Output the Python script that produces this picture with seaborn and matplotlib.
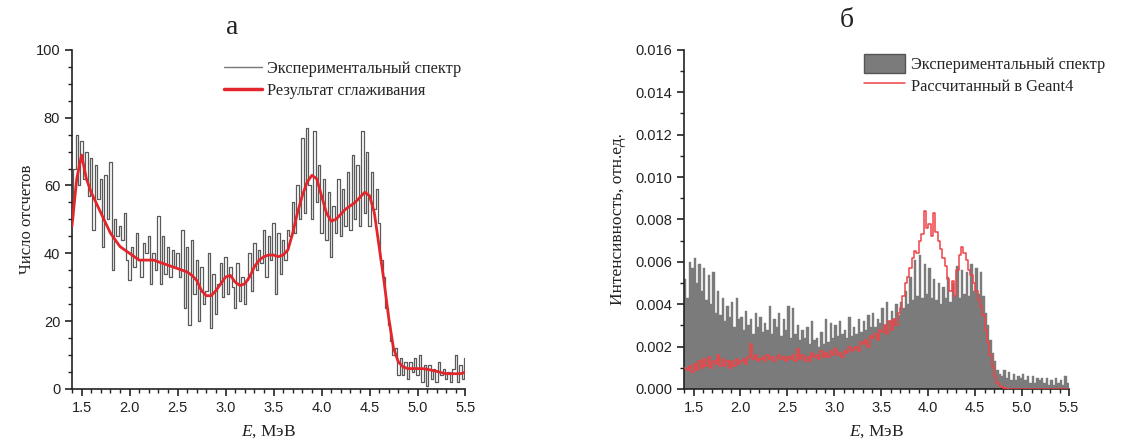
import numpy as np
import pandas as pd
import matplotlib
matplotlib.use("Agg")
import matplotlib.pyplot as plt
import seaborn as sns
from matplotlib.lines import Line2D
from matplotlib.patches import Patch
from matplotlib.ticker import MultipleLocator, FormatStrFormatter

# ---------------- data ----------------
# Panel a: experimental spectrum (counts), step 0.025 MeV starting at 1.40 MeV
e_start = 1.40
e_step_exp = 0.025
exp_counts = [
    50, 65, 75, 60, 73, 62, 70, 57, 68, 47, 66, 56, 62, 42, 63, 50,
    67, 35, 50, 45, 48, 44, 52, 38, 32, 42, 36, 46, 38, 33, 43, 40,
    45, 31, 40, 35, 51, 31, 45, 34, 42, 33, 41, 36, 40, 33, 47, 24,
    42, 19, 44, 28, 38, 20, 36, 25, 29, 40, 18, 34, 22, 31, 37, 27,
    39, 28, 36, 30, 24, 37, 26, 33, 25, 32, 40, 29, 43, 35, 41, 37,
    47, 33, 45, 38, 49, 28, 46, 34, 44, 38, 47, 45, 55, 46, 60, 50,
    74, 52, 77, 60, 50, 76, 55, 66, 46, 62, 44, 58, 39, 54, 46, 62,
    45, 59, 48, 64, 47, 69, 50, 66, 48, 76, 52, 70, 48, 64, 53, 59,
    49, 38, 33, 24, 19, 14, 10, 12, 4, 9, 4, 8, 3, 8, 5, 9,
    4, 10, 2, 7, 1, 7, 3, 6, 2, 8, 4, 6, 3, 5, 2, 6,
    10, 2, 7, 3, 9,
]
# Panel a: smoothed result, step 0.05 MeV starting at 1.40 MeV
e_step_smooth = 0.05
smooth_counts = [
    48, 62, 69, 62, 58, 55, 52, 49, 46, 44, 42, 41, 40, 39, 38, 38,
    38, 38, 37.5, 37, 36.5, 36, 35.5, 35, 34.5, 33.5, 32, 29, 27.5, 27.5,
    29, 31, 33, 33.5, 31.5, 30.5, 31, 33, 36, 38, 39, 39.5, 39.5, 39,
    39.5, 41, 46, 52, 57, 61, 63, 62, 57, 52, 49.5, 50, 51.5, 53, 54,
    55, 56.5, 58, 57, 52, 42, 32, 21, 12, 8, 6.5, 6, 6, 6, 6,
    5.8, 5.5, 5.2, 4.8, 4.5, 4.5, 4.5, 4.5, 5,
]

# Panel b: histograms, bins of 0.025 MeV from 1.40 to 5.50 MeV (values in units of 1e-3)
bin_width = 0.025
exp_intensity_e3 = [
    5.2, 4.3, 6.0, 5.7, 6.2, 5.0, 5.9, 4.6, 5.7, 4.2, 5.4, 4.0, 5.5, 3.6, 4.6, 3.5,
    4.3, 3.2, 3.9, 3.4, 4.1, 2.9, 4.3, 3.3, 3.4, 2.8, 3.7, 3.0, 3.3, 2.6, 3.6, 2.9,
    3.4, 2.7, 3.1, 2.8, 3.9, 2.6, 3.3, 2.9, 3.6, 2.5, 3.3, 2.8, 3.9, 2.4, 3.8, 2.6,
    3.0, 2.3, 2.8, 2.4, 2.9, 2.1, 3.2, 2.3, 2.4, 2.0, 2.7, 2.1, 3.3, 2.2, 3.1, 2.4,
    3.0, 2.5, 3.2, 2.6, 2.8, 2.4, 3.4, 2.5, 2.9, 2.6, 3.3, 2.7, 3.2, 2.8, 3.5, 2.9,
    3.6, 2.9, 3.3, 3.1, 3.8, 3.0, 4.1, 3.2, 3.7, 3.3, 4.0, 3.5, 4.1, 3.8, 4.6, 4.0,
    5.3, 4.2, 6.1, 4.4, 6.3, 4.3, 5.9, 4.5, 5.7, 4.3, 5.2, 4.2, 5.0, 4.0, 4.8, 4.3,
    5.3, 4.1, 5.0, 4.4, 5.8, 4.3, 5.6, 4.5, 5.5, 4.4, 5.9, 4.6, 5.7, 4.5, 5.5, 4.4,
    3.6, 3.0, 2.3, 1.7, 1.3, 0.9, 0.7, 0.6, 0.9, 0.5, 0.8, 0.4, 0.7, 0.4, 0.6, 0.5,
    0.7, 0.4, 0.6, 0.3, 0.6, 0.3, 0.5, 0.4, 0.5, 0.3, 0.5, 0.2, 0.4, 0.2, 0.5, 0.3,
    0.4, 0.2, 0.6, 0.3,
]
geant4_intensity_e3 = [
    1.0, 0.9, 1.1, 0.8, 1.2, 0.9, 1.3, 1.0, 1.4, 1.1, 1.5, 1.0, 1.3, 1.2, 1.6, 1.1,
    1.4, 1.1, 1.3, 1.0, 1.3, 1.1, 1.4, 1.2, 1.3, 1.4, 1.2, 1.5, 2.1, 1.4, 1.6, 1.3,
    1.4, 1.5, 1.3, 1.6, 1.4, 1.5, 1.3, 1.5, 1.6, 1.4, 1.5, 1.3, 1.5, 1.4, 1.6, 1.3,
    1.9, 1.4, 1.6, 1.3, 1.5, 1.3, 1.7, 1.5, 1.6, 1.4, 1.8, 1.5, 1.7, 1.5, 1.8, 1.6,
    1.9, 1.6, 1.7, 1.5, 1.8, 1.7, 2.0, 1.8, 1.9, 2.0, 1.8, 2.2, 2.1, 2.3, 2.0, 2.5,
    2.4, 2.6, 2.3, 2.8, 2.7, 3.0, 2.6, 3.2, 2.8, 3.3, 3.0, 3.6, 3.8, 4.4, 5.0, 5.3,
    5.7, 6.2, 6.5, 6.4, 7.0, 7.3, 8.4, 7.6, 7.8, 7.2, 8.3, 7.4, 7.0, 6.6, 6.2, 5.8,
    5.2, 4.6, 5.1, 4.4, 5.6, 6.3, 6.7, 6.4, 6.1, 5.6, 5.4, 5.0, 4.6, 4.2, 3.9, 3.5,
    2.8, 2.2, 1.6, 1.1, 0.6, 0.3, 0.15, 0.08, 0.05, 0.03, 0.02, 0.01, 0.0, 0.0, 0.0, 0.0,
    0.0, 0.0, 0.0, 0.0, 0.0, 0.0, 0.0, 0.0, 0.0, 0.0, 0.0, 0.0, 0.0, 0.0, 0.0, 0.0,
    0.0, 0.0, 0.0, 0.0,
]

title_a = "а"
title_b = "б"
ylabel_a = "Число отсчетов"
ylabel_b = "Интенсивность, отн.ед."
xlabel = r"$E$, МэВ"
legend_a = ["Экспериментальный спектр", "Результат сглаживания"]
legend_b = ["Экспериментальный спектр", "Рассчитанный в Geant4"]

# ---------------- frames ----------------
df_exp = pd.DataFrame({"E": e_start + e_step_exp * np.arange(len(exp_counts)),
                       "N": exp_counts})
df_smooth = pd.DataFrame({"E": e_start + e_step_smooth * np.arange(len(smooth_counts)),
                          "N": smooth_counts})
edges = (e_start + bin_width * np.arange(len(exp_intensity_e3) + 1)).tolist()
centers = 0.5 * (np.array(edges[:-1]) + np.array(edges[1:]))
df_b = pd.DataFrame({"E": centers,
                     "exp": np.array(exp_intensity_e3) * 1e-3,
                     "g4": np.array(geant4_intensity_e3) * 1e-3})

# ---------------- style ----------------
sns.set_theme(style="ticks")
plt.rcParams["font.family"] = ["Liberation Sans", "DejaVu Sans"]
plt.rcParams["mathtext.fontset"] = "custom"
plt.rcParams["mathtext.it"] = "Liberation Serif:italic"
plt.rcParams["mathtext.rm"] = "Liberation Serif"
serif = ["Liberation Serif", "DejaVu Serif"]

fig = plt.figure(figsize=(11.44, 4.41), dpi=100)
axA = fig.add_axes([0.0629, 0.118, 0.344, 0.769])
axB = fig.add_axes([0.598, 0.118, 0.3365, 0.769])

gray_line = "#5a5a5a"
red = "#e3262b"
red_b = "#ee4448"
fill_gray = "#7b7b7b"

# Panel a
sns.lineplot(data=df_exp, x="E", y="N", ax=axA, color=gray_line, lw=0.9,
             drawstyle="steps-mid", zorder=2)
sns.lineplot(data=df_smooth, x="E", y="N", ax=axA, color=red, lw=2.0, zorder=3)
axA.set_xlim(1.4, 5.5)
axA.set_ylim(0, 100)
axA.yaxis.set_major_locator(MultipleLocator(20))
axA.yaxis.set_minor_locator(MultipleLocator(5))

# Panel b
sns.histplot(data=df_b, x="E", weights="exp", bins=edges, ax=axB, element="bars",
             fill=True, color=fill_gray, alpha=1.0, edgecolor=fill_gray,
             linewidth=0.3, zorder=2)
sns.histplot(data=df_b, x="E", weights="g4", bins=edges, ax=axB, element="step",
             fill=False, color=red_b, linewidth=1.1, zorder=3)
axB.set_xlim(1.4, 5.5)
axB.set_ylim(0, 0.016)
axB.yaxis.set_major_locator(MultipleLocator(0.002))
axB.yaxis.set_minor_locator(MultipleLocator(0.001))
axB.yaxis.set_major_formatter(FormatStrFormatter("%.3f"))

for ax in (axA, axB):
    ax.xaxis.set_major_locator(MultipleLocator(0.5))
    ax.xaxis.set_minor_locator(MultipleLocator(0.1))
    ax.xaxis.set_major_formatter(FormatStrFormatter("%.1f"))
    ax.tick_params(which="major", direction="out", length=5, width=1.2,
                   labelsize=10.5, colors="#222222")
    ax.tick_params(which="minor", direction="out", length=3, width=1.0, colors="#222222")
    for s in ("top", "right"):
        ax.spines[s].set_visible(False)
    for s in ("left", "bottom"):
        ax.spines[s].set_linewidth(1.2)
        ax.spines[s].set_color("#222222")
    ax.set_xlabel(xlabel, family=serif, fontsize=12.5, color="#222222")

axA.set_ylabel(ylabel_a, family=serif, fontsize=12, color="#222222")
axB.set_ylabel(ylabel_b, family=serif, fontsize=12.5, color="#222222")
axA.yaxis.set_label_coords(-0.095, 0.5)
axB.yaxis.set_label_coords(-0.15, 0.5)
axA.xaxis.set_label_coords(0.5, -0.1)
axB.xaxis.set_label_coords(0.5, -0.1)

# legends
hA = [Line2D([], [], color="#777777", lw=1.0), Line2D([], [], color=red, lw=2.5)]
legA = axA.legend(hA, legend_a, loc="upper left", bbox_to_anchor=(0.35, 1.01),
                  frameon=False, prop={"family": serif, "size": 11.8},
                  handlelength=2.3, handletextpad=0.3, labelspacing=0.35)
hB = [Patch(facecolor=fill_gray, edgecolor="#555555"), Line2D([], [], color=red_b, lw=1.1)]
legB = axB.legend(hB, legend_b, loc="upper left", bbox_to_anchor=(0.43, 1.03),
                  frameon=False, prop={"family": serif, "size": 11.8},
                  handlelength=2.5, handleheight=1.4, handletextpad=0.35, labelspacing=0.15)

fig.text(0.203, 0.937, title_a, family=serif, fontsize=20, ha="center", va="center", color="#222222")
fig.text(0.740, 0.953, title_b, family=serif, fontsize=20, ha="center", va="center", color="#222222")

fig.savefig("out.png", dpi=100, facecolor="white")
